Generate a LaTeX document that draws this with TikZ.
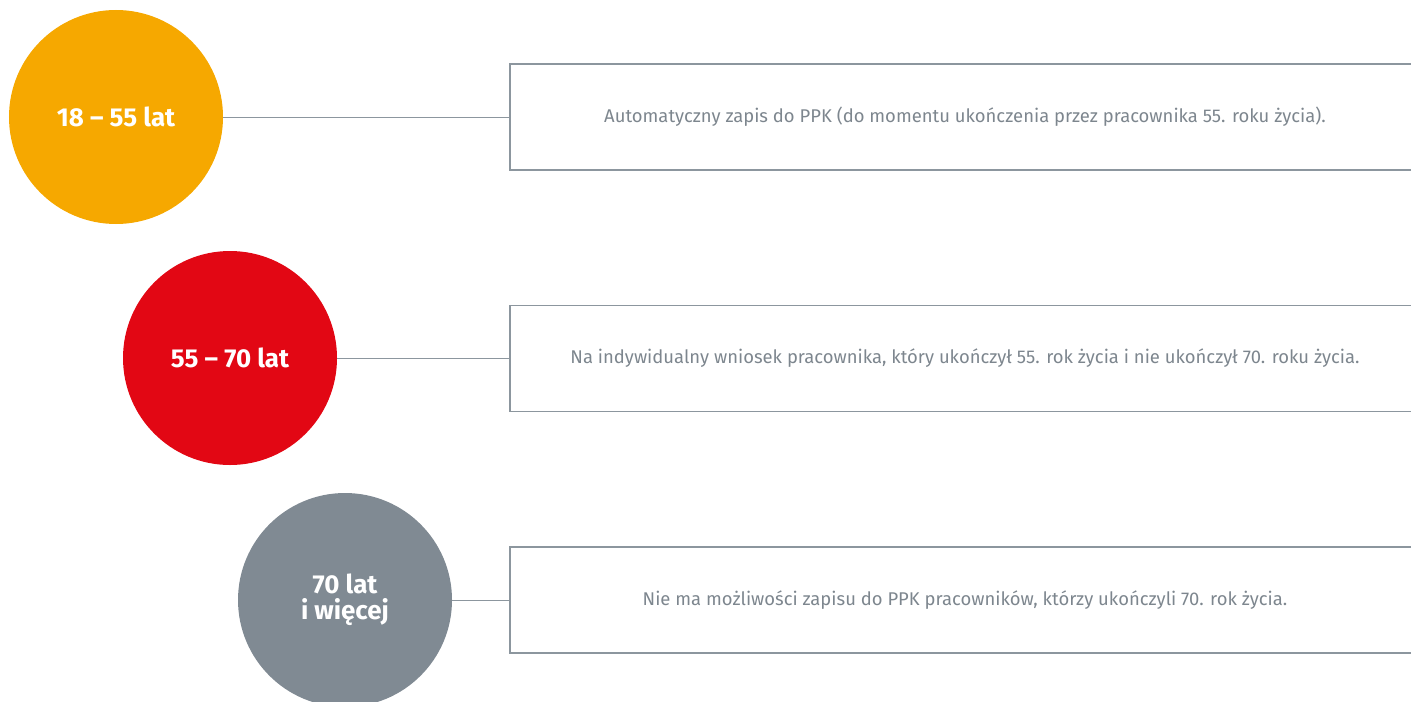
\documentclass[tikz,border=0pt]{standalone}
\usepackage{fontspec}
\setmainfont{Fira Sans}
\usepackage{xcolor}
\usepackage{tikz}
\usetikzlibrary{positioning}
\definecolor{pomaranczowy}{HTML}{F6A800}
\definecolor{czerwony}{HTML}{E20714}
\definecolor{szary}{HTML}{808A93}
\definecolor{linia}{HTML}{8C969E}
\definecolor{tekst}{HTML}{7D868E}

\begin{document}
\begin{tikzpicture}[x=1bp, y=-1bp,
    kolo/.style={circle, minimum size=214bp, inner sep=0pt, text=white,
                 font=\fontsize{26}{26}\selectfont\bfseries, align=center},
    opis/.style={draw=linia, line width=1.1bp, minimum width=910bp, minimum height=106bp,
                 inner sep=0pt, text=tekst, font=\fontsize{18.5}{21}\selectfont},
    lacznik/.style={draw=linia, line width=0.9bp}]
            \useasboundingbox (0,0) rectangle (1411,702);
            \clip (0,0) rectangle (1411,702);

            % Kola z przedzialami wieku
            \node[kolo, fill=pomaranczowy] (wiek1) at (116,117) {18 -- 55 lat};
            \node[kolo, fill=czerwony] (wiek2) at (230,358) {55 -- 70 lat};
            \node[kolo, fill=szary] (wiek3) at (345,600) {70 lat\\ i więcej};

            % Ramki z opisem
            \node[opis] (opis1) at (965,117) {Automatyczny zapis do PPK (do momentu ukończenia przez pracownika 55. roku życia).};
            \node[opis] (opis2) at (965,358.5) {Na indywidualny wniosek pracownika, który ukończył 55. rok życia i nie ukończył 70. roku życia.};
            \node[opis] (opis3) at (965,600) {Nie ma możliwości zapisu do PPK pracowników, którzy ukończyli 70. rok życia.};

            % Linie
            \draw[lacznik] (wiek1.east) -- (opis1.west |- wiek1.east);
            \draw[lacznik] (wiek2.east) -- (opis2.west |- wiek2.east);
            \draw[lacznik] (wiek3.east) -- (opis3.west |- wiek3.east);
        \end{tikzpicture}
\end{document}
